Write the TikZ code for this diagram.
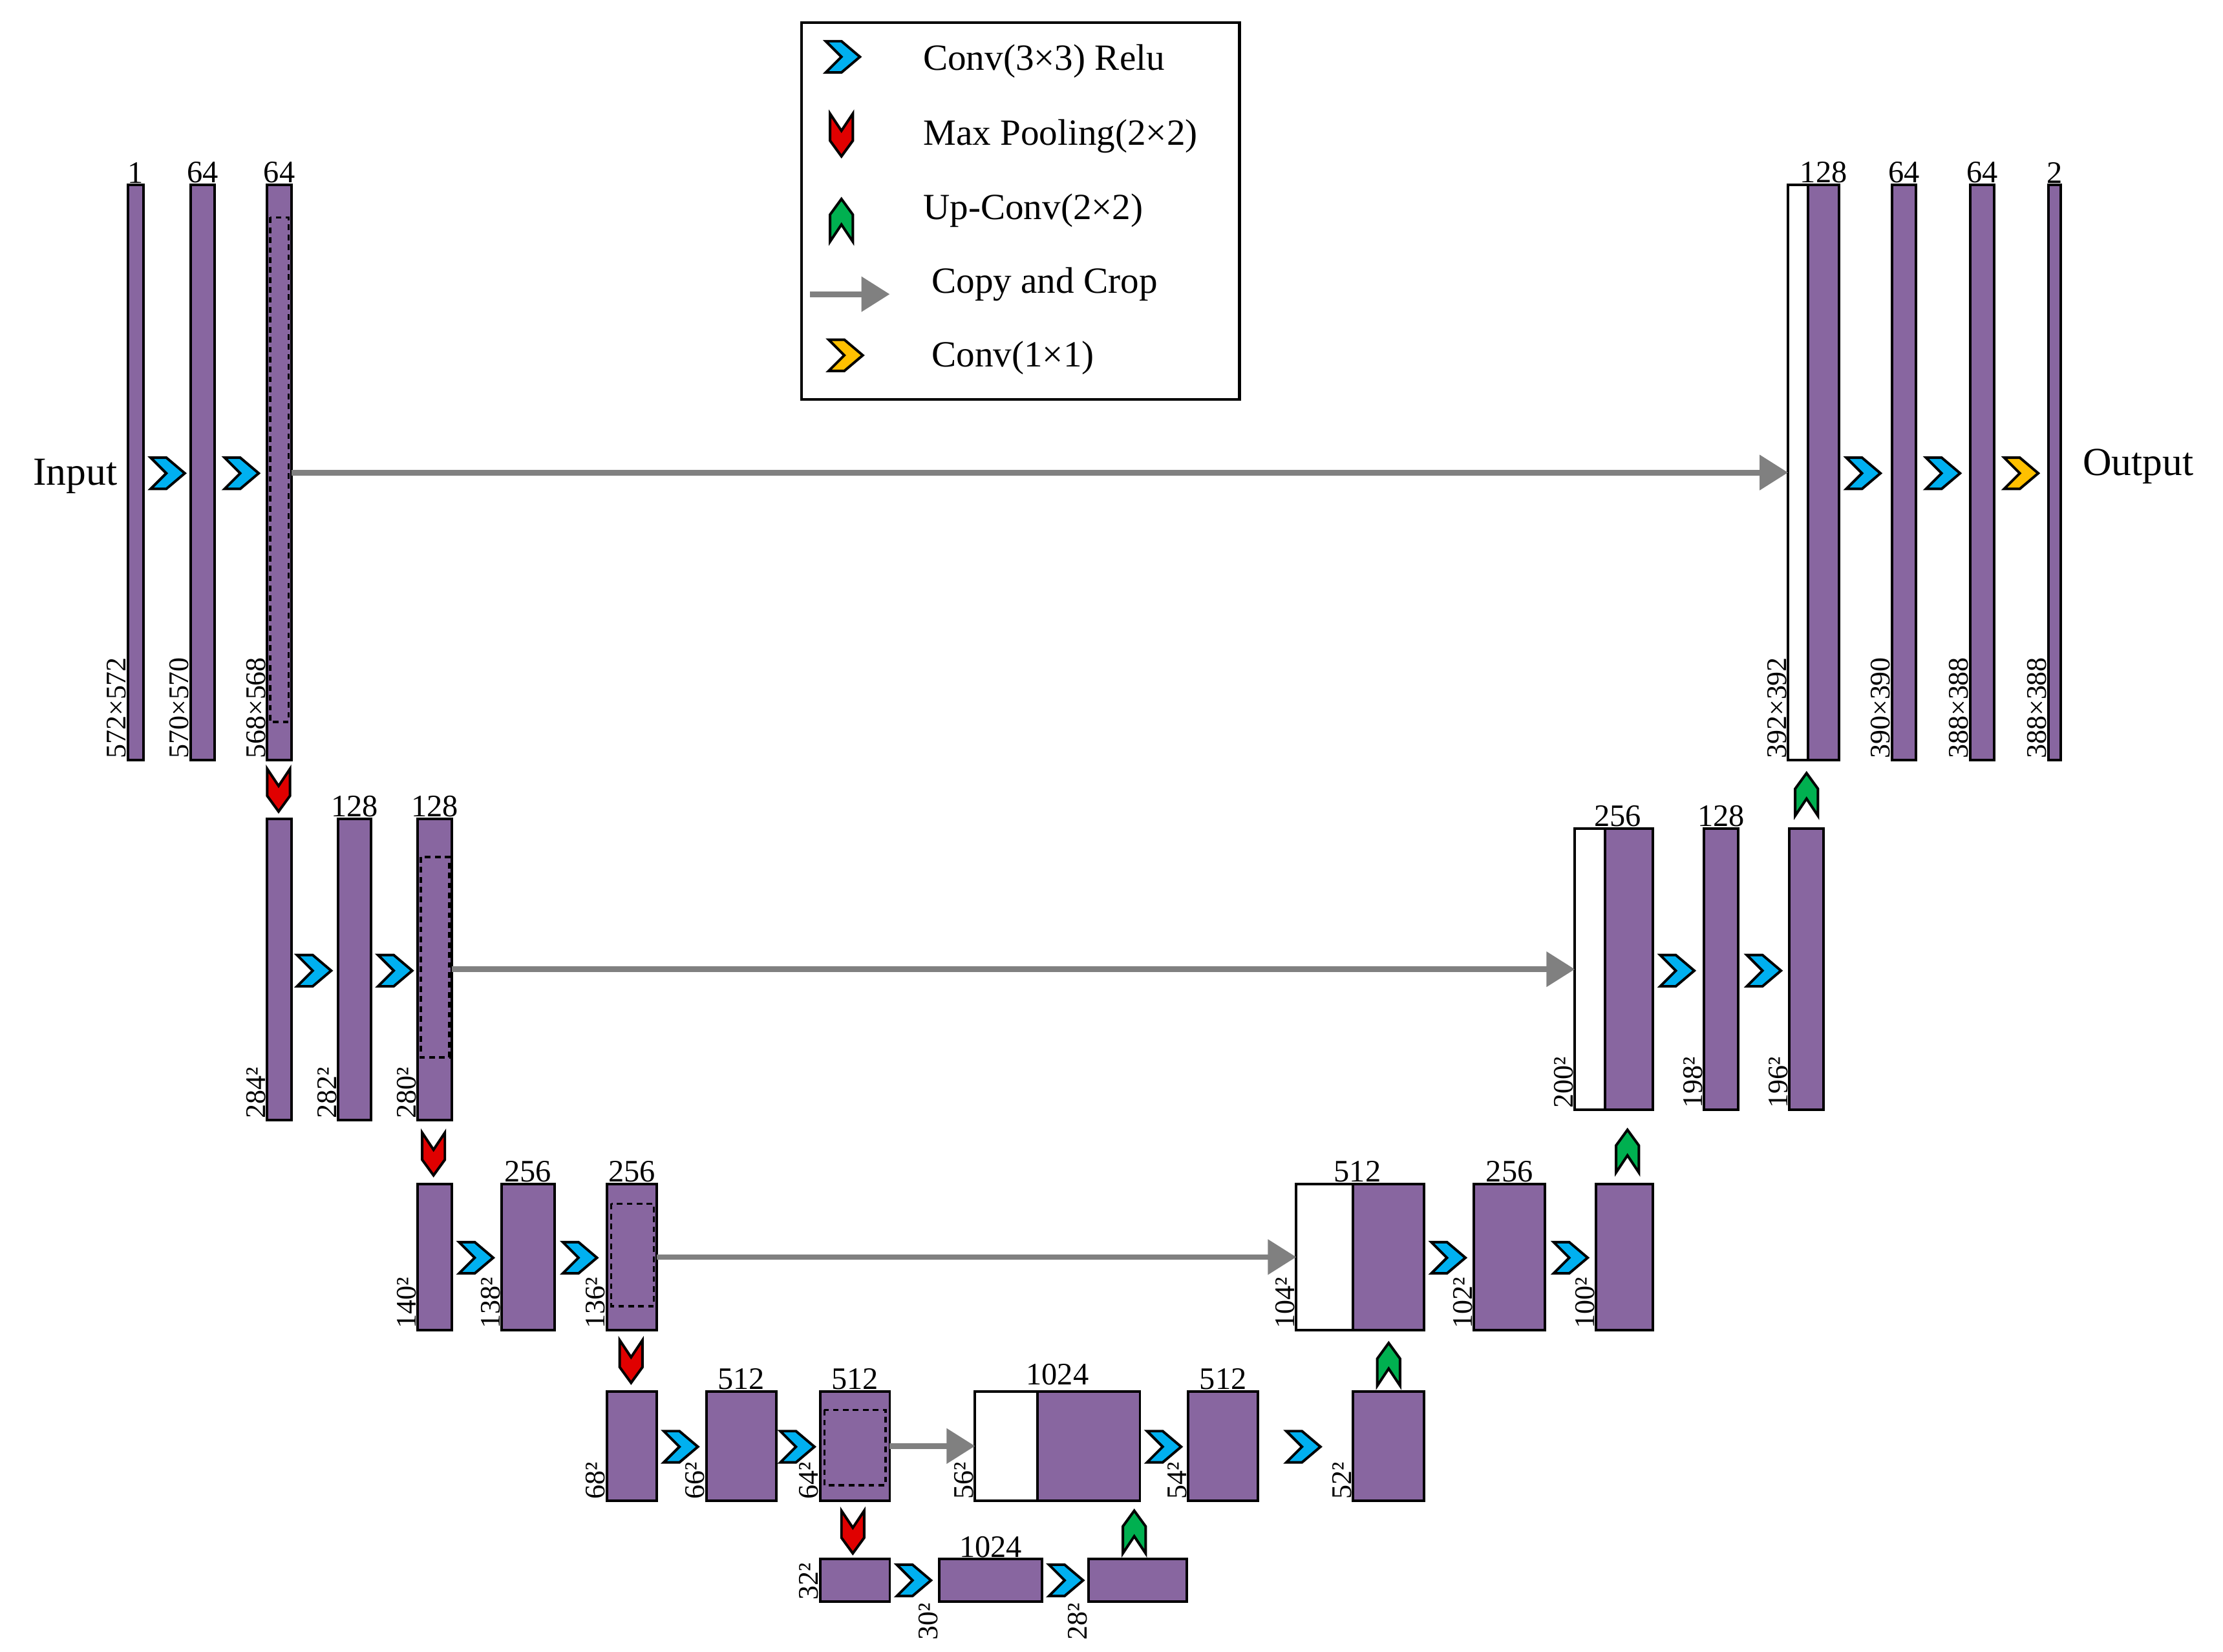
\documentclass[tikz,border=0pt]{standalone}
\usepackage{fontspec}
\setmainfont{Liberation Serif}
\usetikzlibrary{arrows.meta}

\definecolor{unetpurple}{RGB}{136,102,160}
\definecolor{convblue}{RGB}{0,176,240}
\definecolor{poolred}{RGB}{224,0,0}
\definecolor{upgreen}{RGB}{0,176,80}
\definecolor{outorange}{RGB}{255,192,0}

\tikzset{
  blk/.style={draw, line width=1.8pt, fill=unetpurple, inner sep=0pt, outer sep=0pt, anchor=north west},
  wblk/.style={blk, fill=white},
  crop/.style={dashed, line width=1.6pt, dash pattern=on 4pt off 3pt},
  copy/.style={draw=gray, line width=4pt, -{Triangle[length=20pt,width=24pt]}},
  num/.style={font=\fontsize{22}{24}\selectfont, inner sep=1pt},
  dim/.style={font=\fontsize{20}{22}\selectfont, rotate=90, inner sep=1pt},
  chev/.style={draw, line width=1.8pt, line join=miter},
  conv/.pic={\draw[chev, fill=convblue] (-12,-11)--(-1,-11)--(12,0)--(-1,11)--(-12,11)--(-1,0)--cycle;},
  convout/.pic={\draw[chev, fill=outorange] (-12,-11)--(-1,-11)--(12,0)--(-1,11)--(-12,11)--(-1,0)--cycle;},
  pool/.pic={\draw[chev, fill=poolred] (-8,-15)--(0,-3)--(8,-15)--(8,4)--(0,15)--(-8,4)--cycle;},
  upconv/.pic={\draw[chev, fill=upgreen] (-8,15)--(0,3)--(8,15)--(8,-4)--(0,-15)--(-8,-4)--cycle;}
}

% block: name, x1, x2, y1, y2
\newcommand\blk[6][blk]{\node[#1, minimum width={(#4-#3)*1pt}, minimum height={(#6-#5)*1pt}] (#2) at (#3,#5) {};}

\begin{document}
\begin{tikzpicture}[x=1pt, y=-1pt]
  \useasboundingbox (0,0) rectangle (1564,1162);

  % legend
  \node[draw, line width=2pt, minimum width=308pt, minimum height=265pt, anchor=north west] (legend) at (563,15) {};
  \pic at (593,40) {conv};
  \pic at (592,95) {pool};
  \pic at (592,155) {upconv};
  \coordinate (lga) at (570,207);
  \coordinate (lgb) at (626,207);
  \draw[copy] (lga) -- (lgb);
  \pic at (595,250) {convout};
  \begin{scope}[every node/.style={anchor=west, font=\fontsize{26}{28}\selectfont}]
    \node (lg1) at (646,43) {Conv(3×3) Relu};
    \node (lg2) at (646,96) {Max Pooling(2×2)};
    \node (lg3) at (646,148) {Up-Conv(2×2)};
    \node (lg4) at (652,200) {Copy and Crop};
    \node (lg5) at (652,252) {Conv(1×1)};
  \end{scope}

  % level 1
  \blk{a1}{90}{101}{130}{535}
  \blk{a2}{134}{151}{130}{535}
  \blk{a3}{188}{205}{130}{535}
  \draw[crop] (190,153) rectangle (203,508);
  \blk[wblk]{r1w}{1258}{1272}{130}{535}
  \blk{r1}{1272}{1294}{130}{535}
  \blk{r2}{1331}{1348}{130}{535}
  \blk{r3}{1386}{1403}{130}{535}
  \blk{r4}{1441}{1450}{130}{535}
  \node[font=\fontsize{28}{30}\selectfont, anchor=east] (input) at (86,335) {Input};
  \node[font=\fontsize{28}{30}\selectfont, anchor=west] (output) at (1462,328) {Output};
  \pic at (118,333) {conv};
  \pic at (170,333) {conv};
  \pic at (1311,333) {conv};
  \pic at (1367,333) {conv};
  \pic at (1422,333) {convout};
  \draw[copy] (a3.east) -- (r1w.west);
  \node[num, above] at (a1.north) {1};
  \node[num, above] at (a2.north) {64};
  \node[num, above] at (a3.north) {64};
  \node[num, above] at (r1.north) {128};
  \node[num, above] at (r2.north) {64};
  \node[num, above] at (r3.north) {64};
  \node[num, above] at (r4.north) {2};
  \node[dim, anchor=south west] at (a1.south west) {572×572};
  \node[dim, anchor=south west] at (a2.south west) {570×570};
  \node[dim, anchor=south west] at (a3.south west) {568×568};
  \node[dim, anchor=south west] at (r1w.south west) {392×392};
  \node[dim, anchor=south west] at (r2.south west) {390×390};
  \node[dim, anchor=south west] at (r3.south west) {388×388};
  \node[dim, anchor=south west] at (r4.south west) {388×388};

  % level 2
  \pic at (196,556) {pool};
  \blk{b1}{188}{205}{576}{788}
  \blk{b2}{238}{261}{576}{788}
  \blk{b3}{294}{318}{576}{788}
  \draw[crop] (296,603) rectangle (316,744);
  \blk[wblk]{q1w}{1108}{1129}{583}{781}
  \blk{q1}{1129}{1163}{583}{781}
  \blk{q2}{1199}{1223}{583}{781}
  \blk{q3}{1259}{1283}{583}{781}
  \pic at (221,683) {conv};
  \pic at (278,683) {conv};
  \pic at (1180,683) {conv};
  \pic at (1241,683) {conv};
  \pic at (1271,559) {upconv};
  \draw[copy] (b3.east) -- (q1w.west);
  \node[num, above] at (b2.north) {128};
  \node[num, above] at (b3.north) {128};
  \node[num, above] at (1138,583) {256};
  \node[num, above] at (q2.north) {128};
  \node[dim, anchor=south west] at (b1.south west) {284²};
  \node[dim, anchor=south west] at (b2.south west) {282²};
  \node[dim, anchor=south west] at (b3.south west) {280²};
  \node[dim, anchor=south west] at (q1w.south west) {200²};
  \node[dim, anchor=south west] at (q2.south west) {198²};
  \node[dim, anchor=south west] at (q3.south west) {196²};

  % level 3
  \pic at (305,812) {pool};
  \blk{c1}{294}{318}{833}{936}
  \blk{c2}{353}{390}{833}{936}
  \blk{c3}{427}{462}{833}{936}
  \draw[crop] (430,847) rectangle (460,919);
  \blk[wblk]{p1w}{912}{952}{833}{936}
  \blk{p1}{952}{1002}{833}{936}
  \blk{p2}{1037}{1087}{833}{936}
  \blk{p3}{1123}{1163}{833}{936}
  \pic at (335,885) {conv};
  \pic at (408,885) {conv};
  \pic at (1019,885) {conv};
  \pic at (1105,885) {conv};
  \pic at (1145,810) {upconv};
  \draw[copy] (c3.east) -- (p1w.west);
  \node[num, above] at (c2.north) {256};
  \node[num, above] at (c3.north) {256};
  \node[num, above] at (955,833) {512};
  \node[num, above] at (p2.north) {256};
  \node[dim, anchor=south west] at (c1.south west) {140²};
  \node[dim, anchor=south west] at (c2.south west) {138²};
  \node[dim, anchor=south west] at (c3.south west) {136²};
  \node[dim, anchor=south west] at (p1w.south west) {104²};
  \node[dim, anchor=south west] at (p2.south west) {102²};
  \node[dim, anchor=south west] at (p3.south west) {100²};

  % level 4
  \pic at (444,958) {pool};
  \blk{d1}{427}{462}{979}{1056}
  \blk{d2}{497}{546}{979}{1056}
  \blk{d3}{577}{626}{979}{1056}
  \draw[crop] (580,992) rectangle (623,1045);
  \blk[wblk]{e1w}{686}{730}{979}{1056}
  \blk{e1}{730}{802}{979}{1056}
  \blk{e2}{836}{885}{979}{1056}
  \blk{e3}{952}{1002}{979}{1056}
  \pic at (479,1018) {conv};
  \pic at (561,1018) {conv};
  \pic at (819,1018) {conv};
  \pic at (917,1018) {conv};
  \pic at (977,960) {upconv};
  \draw[copy] (d3.east) -- (e1w.west);
  \node[num, above] at (d2.north) {512};
  \node[num, above] at (d3.north) {512};
  \node[num, above] at (744,976) {1024};
  \node[num, above] at (e2.north) {512};
  \node[dim, anchor=south west] at (d1.south west) {68²};
  \node[dim, anchor=south west] at (d2.south west) {66²};
  \node[dim, anchor=south west] at (d3.south west) {64²};
  \node[dim, anchor=south west] at (e1w.south west) {56²};
  \node[dim, anchor=south west] at (e2.south west) {54²};
  \node[dim, anchor=south west] at (e3.south west) {52²};

  % bottom
  \pic at (600,1078) {pool};
  \blk{f1}{577}{626}{1097}{1127}
  \blk{f2}{661}{733}{1097}{1127}
  \blk{f3}{766}{835}{1097}{1127}
  \pic at (643,1112) {conv};
  \pic at (750,1112) {conv};
  \pic at (798,1078) {upconv};
  \node[num, above] at (f2.north) {1024};
  \node[dim, anchor=south west] at (f1.south west) {32²};
  \node[dim, anchor=south east] at (f2.south west) {30²};
  \node[dim, anchor=south east] at (f3.south west) {28²};
\end{tikzpicture}
\end{document}
